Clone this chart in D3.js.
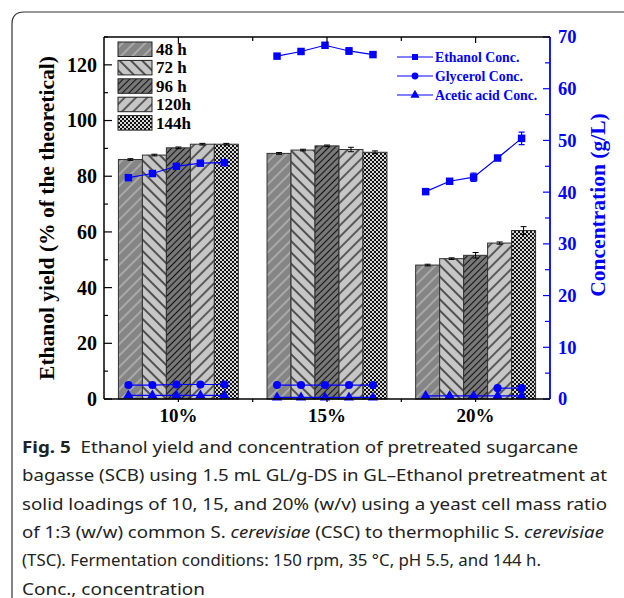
<!DOCTYPE html>
<html>
<head>
<meta charset="utf-8">
<script src="https://cdn.jsdelivr.net/npm/d3@7"></script>
<style>
  body { margin: 0; background: #fff; }
  svg { display: block; }
</style>
</head>
<body>
<script>
// categories (solid loading) and fermentation times
const loadings = ["10%", "15%", "20%"];
const times = ["48 h", "72 h", "96 h", "120h", "144h"];

// ethanol yield (% of theoretical), one array per time, values for 10/15/20%
const yield48 = [86.0, 88.2, 48.1];
const yield72 = [87.6, 89.4, 50.4];
const yield96 = [90.2, 90.9, 51.6];
const yield120 = [91.5, 89.6, 56.0];
const yield144 = [91.5, 88.6, 60.5];
const yieldErr48 = [0.3, 0.3, 0.3];
const yieldErr72 = [0.3, 0.3, 0.3];
const yieldErr96 = [0.3, 0.3, 1.0];
const yieldErr120 = [0.3, 0.8, 0.4];
const yieldErr144 = [0.3, 0.5, 1.4];

// concentrations (g/L), one array per loading over the 5 times
const ethanol10 = [42.8, 43.6, 45.0, 45.6, 45.7];
const ethanol15 = [66.3, 67.2, 68.4, 67.3, 66.6];
const ethanol20 = [40.1, 42.1, 42.9, 46.6, 50.4];
const ethanolErr10 = [0.2, 0.2, 0.2, 0.2, 0.2];
const ethanolErr15 = [0.2, 0.2, 0.2, 0.6, 0.4];
const ethanolErr20 = [0.2, 0.2, 0.8, 0.2, 1.2];
const glycerol10 = [2.7, 2.7, 2.8, 2.8, 2.8];
const glycerol15 = [2.7, 2.7, 2.7, 2.7, 2.7];
const glycerol20 = [null, null, null, 2.1, 2.1];
const acetic10 = [0.7, 0.7, 0.7, 0.7, 0.7];
const acetic15 = [0.3, 0.3, 0.3, 0.3, 0.3];
const acetic20 = [0.6, 0.6, 0.6, 0.6, 0.6];

const yieldTicks = [0, 20, 40, 60, 80, 100, 120];
const concTicks = [0, 10, 20, 30, 40, 50, 60, 70];

const yields = [yield48, yield72, yield96, yield120, yield144];
const yieldErrs = [yieldErr48, yieldErr72, yieldErr96, yieldErr120, yieldErr144];
const ethanol = [ethanol10, ethanol15, ethanol20];
const ethanolErr = [ethanolErr10, ethanolErr15, ethanolErr20];
const glycerol = [glycerol10, glycerol15, glycerol20];
const acetic = [acetic10, acetic15, acetic20];

const W = 624, H = 598;
const margin = { top: 37, right: 74, bottom: 199, left: 104 },
  width = W - margin.left - margin.right,
  height = H - margin.top - margin.bottom;

const svg = d3.select("body").append("svg").attr("width", W).attr("height", H);

// rounded frame of the figure box
svg.append("path")
  .attr("d", "M12,598 L12,24 Q12,12 24,12 L624,12")
  .attr("fill", "none").attr("stroke", "#333").attr("stroke-width", 1.2);

// hatch patterns
const defs = svg.append("defs");
function hatch(id, bg, fg, gap, angle, sw) {
  const p = defs.append("pattern").attr("id", id)
    .attr("patternUnits", "userSpaceOnUse")
    .attr("width", gap).attr("height", gap)
    .attr("patternTransform", `rotate(${angle})`);
  p.append("rect").attr("width", gap).attr("height", gap).attr("fill", bg);
  p.append("line").attr("x1", gap / 2).attr("x2", gap / 2)
    .attr("y1", 0).attr("y2", gap)
    .attr("stroke", fg).attr("stroke-width", sw);
}
hatch("p0", "#858585", "#bdbdbd", 8, 45, 1.3);
hatch("p1", "#c6c6c6", "#111", 8, -45, 1.3);
hatch("p2", "#7a7a7a", "#111", 4.6, 45, 1.1);
hatch("p3", "#c6c6c6", "#111", 8, 45, 1.2);
const chk = defs.append("pattern").attr("id", "p4")
  .attr("patternUnits", "userSpaceOnUse").attr("width", 4).attr("height", 4);
chk.append("rect").attr("width", 4).attr("height", 4).attr("fill", "#d8d8d8");
chk.append("rect").attr("width", 2).attr("height", 2).attr("fill", "#111");
chk.append("rect").attr("x", 2).attr("y", 2).attr("width", 2).attr("height", 2).attr("fill", "#111");
const fills = ["url(#p0)", "url(#p1)", "url(#p2)", "url(#p3)", "url(#p4)"];

const g = svg.append("g").attr("transform", `translate(${margin.left},${margin.top})`);

const x0 = d3.scaleBand().domain(loadings).range([0, width])
  .paddingInner(0.193).paddingOuter(0.097);
const x1 = d3.scaleBand().domain(times).range([0, x0.bandwidth()]);
const y = d3.scaleLinear().domain([0, 130]).range([height, 0]);
const yc = d3.scaleLinear().domain([0, 70]).range([height, 0]);

const serif = "'Liberation Serif', 'Times New Roman', serif";
const blue = "#0000ff";

// bars
times.forEach((t, i) => {
  const grp = g.append("g");
  grp.selectAll("rect")
    .data(loadings)
    .join("rect")
    .attr("x", (d) => x0(d) + x1(t))
    .attr("y", (d, j) => y(yields[i][j]))
    .attr("width", x1.bandwidth())
    .attr("height", (d, j) => height - y(yields[i][j]))
    .attr("fill", fills[i])
    .attr("stroke", "#333")
    .attr("stroke-width", 1);
  // error bars
  loadings.forEach((d, j) => {
    const cx = x0(d) + x1(t) + x1.bandwidth() / 2;
    const v = yields[i][j], e = yieldErrs[i][j];
    grp.append("path")
      .attr("d", `M${cx - 3},${y(v + e)}H${cx + 3}M${cx},${y(v + e)}V${y(v - e)}M${cx - 3},${y(v - e)}H${cx + 3}`)
      .attr("stroke", "#000").attr("stroke-width", 1).attr("fill", "none");
  });
});

// concentration lines
const symSquare = d3.symbol().type(d3.symbolSquare).size(56);
const symCircle = d3.symbol().type(d3.symbolCircle).size(52);
const symTri = d3.symbol().type(d3.symbolTriangle).size(46);
const cx = (li, ti) => x0(loadings[li]) + x1(times[ti]) + x1.bandwidth() / 2 - 2;
const line = d3.line().defined((d) => d.v != null).x((d) => d.x).y((d) => yc(d.v));

function drawSeries(arrs, sym, errs) {
  arrs.forEach((arr, li) => {
    const pts = arr.map((v, ti) => ({ x: cx(li, ti), v: v, e: errs ? errs[li][ti] : 0 }))
      .filter((d) => d.v != null);
    g.append("path").datum(pts).attr("d", line)
      .attr("fill", "none").attr("stroke", blue).attr("stroke-width", 1.2);
    if (errs) {
      g.selectAll(null).data(pts).join("path")
        .attr("d", (d) => `M${d.x - 3},${yc(d.v + d.e)}H${d.x + 3}M${d.x},${yc(d.v + d.e)}V${yc(d.v - d.e)}M${d.x - 3},${yc(d.v - d.e)}H${d.x + 3}`)
        .attr("stroke", blue).attr("stroke-width", 1.2).attr("fill", "none");
    }
    g.selectAll(null).data(pts).join("path")
      .attr("transform", (d) => `translate(${d.x},${yc(d.v)})`)
      .attr("d", sym).attr("fill", blue);
  });
}
drawSeries(ethanol, symSquare, ethanolErr);
drawSeries(glycerol, symCircle, null);
drawSeries(acetic, symTri, null);

// left axis
const yAxis = g.append("g")
  .call(d3.axisLeft(y).tickValues(yieldTicks).tickSize(0).tickPadding(7))
  .call((a) => a.select(".domain").remove());
yAxis.selectAll("text").attr("font-family", serif).attr("font-weight", "bold")
  .attr("font-size", 20).attr("fill", "#000");
g.append("g").selectAll("line").data(d3.range(0, 131, 10)).join("line")
  .attr("x1", 0).attr("x2", (d) => (d % 20 === 0 ? 8 : 4))
  .attr("y1", (d) => y(d)).attr("y2", (d) => y(d))
  .attr("stroke", "#000").attr("stroke-width", 1.2);

// right axis (blue)
const rAxis = g.append("g").attr("transform", `translate(${width},0)`)
  .call(d3.axisRight(yc).tickValues(concTicks).tickSize(0).tickPadding(8))
  .call((a) => a.select(".domain").remove());
rAxis.selectAll("text").attr("font-family", serif).attr("font-weight", "bold")
  .attr("font-size", 18.5).attr("fill", blue);
g.append("g").selectAll("line").data(d3.range(0, 71, 5)).join("line")
  .attr("x1", width).attr("x2", (d) => width - (d % 10 === 0 ? 7 : 5))
  .attr("y1", (d) => yc(d)).attr("y2", (d) => yc(d))
  .attr("stroke", blue).attr("stroke-width", 1.2);

// bottom axis
const xAxis = g.append("g").attr("transform", `translate(0,${height})`)
  .call(d3.axisBottom(x0).tickSize(0).tickPadding(10))
  .call((a) => a.select(".domain").remove());
xAxis.selectAll("text").attr("font-family", serif).attr("font-weight", "bold")
  .attr("font-size", 19).attr("fill", "#000");

// x ticks at centres and between groups (top and bottom)
const xt = [];
loadings.forEach((d, i) => {
  xt.push({ x: x0(d) + x0.bandwidth() / 2, len: 6 });
  if (i > 0) xt.push({ x: x0(d) - (x0.step() - x0.bandwidth()) / 2, len: 4 });
});
g.append("g").selectAll("line").data(xt).join("line")
  .attr("x1", (d) => d.x).attr("x2", (d) => d.x)
  .attr("y1", 0).attr("y2", (d) => d.len)
  .attr("stroke", "#000").attr("stroke-width", 1.2);
g.append("g").selectAll("line").data(xt).join("line")
  .attr("x1", (d) => d.x).attr("x2", (d) => d.x)
  .attr("y1", height).attr("y2", (d) => height + 3)
  .attr("stroke", "#000").attr("stroke-width", 1.2);

// frame lines
g.append("line").attr("x1", 0).attr("x2", width).attr("y1", 0).attr("y2", 0)
  .attr("stroke", "#000").attr("stroke-width", 1.5);
g.append("line").attr("x1", 0).attr("x2", width).attr("y1", height).attr("y2", height)
  .attr("stroke", "#000").attr("stroke-width", 1.5);
g.append("line").attr("x1", 0).attr("x2", 0).attr("y1", 0).attr("y2", height)
  .attr("stroke", "#000").attr("stroke-width", 1.5);
g.append("line").attr("x1", width).attr("x2", width).attr("y1", 0).attr("y2", height)
  .attr("stroke", blue).attr("stroke-width", 1.8);

// axis titles
g.append("text")
  .attr("transform", `translate(${47 - margin.left},${218 - margin.top}) rotate(-90)`)
  .attr("text-anchor", "middle").attr("dominant-baseline", "central")
  .attr("font-family", serif).attr("font-weight", "bold").attr("font-size", 21.5)
  .text("Ethanol yield (% of the theoretical)");
g.append("text")
  .attr("transform", `translate(${598 - margin.left},${205 - margin.top}) rotate(-90)`)
  .attr("text-anchor", "middle").attr("dominant-baseline", "central")
  .attr("font-family", serif).attr("font-weight", "bold").attr("font-size", 21.5)
  .attr("fill", blue)
  .text("Concentration (g/L)");

// bar legend
const leg = svg.append("g").attr("transform", "translate(118,42)");
times.forEach((t, i) => {
  leg.append("rect").attr("x", 0).attr("y", i * 18.4).attr("width", 34).attr("height", 14.5)
    .attr("fill", fills[i]).attr("stroke", "#222").attr("stroke-width", 1);
  leg.append("text").attr("x", 38).attr("y", i * 18.4 + 13)
    .attr("font-family", serif).attr("font-weight", "bold").attr("font-size", 17)
    .text(t);
});

// line legend
const lnames = ["Ethanol Conc.", "Glycerol Conc.", "Acetic acid Conc."];
const lsyms = [symSquare, symCircle, symTri];
const leg2 = svg.append("g").attr("transform", "translate(397,57)");
lnames.forEach((n, i) => {
  leg2.append("line").attr("x1", 0).attr("x2", 36).attr("y1", i * 19).attr("y2", i * 19)
    .attr("stroke", blue).attr("stroke-width", 1.2);
  leg2.append("path").attr("transform", `translate(18,${i * 19})`)
    .attr("d", d3.symbol().type(lsyms[i].type()).size(36)).attr("fill", blue);
  leg2.append("text").attr("x", 38).attr("y", i * 19 + 5)
    .attr("font-family", serif).attr("font-weight", "bold").attr("font-size", 13.8)
    .attr("fill", blue).text(n);
});

// caption
const cap = svg.append("g").attr("font-family", "'Noto Sans', 'Open Sans', sans-serif")
  .attr("font-size", 16.8).attr("fill", "#222");
const capLines = [
  [["b", "Fig. 5"], ["r", "  Ethanol yield and concentration of pretreated sugarcane"]],
  [["r", "bagasse (SCB) using 1.5 mL GL/g-DS in GL\u2013Ethanol pretreatment at"]],
  [["r", "solid loadings of 10, 15, and 20% (w/v) using a yeast cell mass ratio"]],
  [["r", "of 1:3 (w/w) common S. "], ["i", "cerevisiae"], ["r", " (CSC) to thermophilic S. "], ["i", "cerevisiae"]],
  [["r", "(TSC). Fermentation conditions: 150 rpm, 35 \u00b0C, pH 5.5, and 144 h."]],
  [["r", "Conc., concentration"]],
];
const capEnd = [578, 607, 607, 604, 541, 205];
capLines.forEach((parts, i) => {
  const t = cap.append("text").attr("x", 22).attr("y", 453 + i * 28.3)
    .attr("textLength", capEnd[i] - 22).attr("lengthAdjust", "spacingAndGlyphs")
    .style("white-space", "pre");
  parts.forEach((p) => {
    t.append("tspan")
      .attr("font-weight", p[0] === "b" ? "bold" : "normal")
      .attr("font-style", p[0] === "i" ? "italic" : "normal")
      .text(p[1]);
  });
});
</script>
</body>
</html>
